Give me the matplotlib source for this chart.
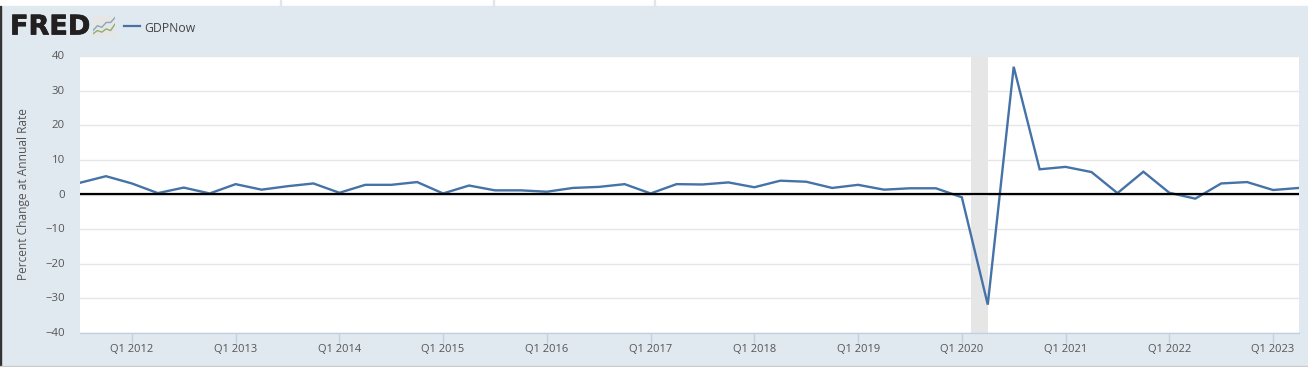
import matplotlib
matplotlib.use("Agg")
import matplotlib.pyplot as plt
import matplotlib.patheffects as pe
from matplotlib.patches import Rectangle
from matplotlib.transforms import Affine2D

# GDPNow, quarterly, Q3 2011 to Q2 2023
gdpnow = [3.4, 5.3, 3.2, 0.4, 2.0, 0.3, 3.0, 1.4, 2.4, 3.2,
          0.5, 2.8, 2.8, 3.6, 0.3, 2.6, 1.2, 1.2, 0.8, 1.9,
          2.2, 3.0, 0.3, 3.0, 2.9, 3.5, 2.1, 4.0, 3.7, 1.9,
          2.8, 1.4, 1.8, 1.8, -0.8, -31.9, 37.0, 7.3, 8.0, 6.5,
          0.4, 6.6, 0.5, -1.2, 3.2, 3.6, 1.3, 1.9]
quarters = list(range(len(gdpnow)))

year_ticks = [2, 6, 10, 14, 18, 22, 26, 30, 34, 38, 42, 46]
year_labels = ["Q1 2012", "Q1 2013", "Q1 2014", "Q1 2015", "Q1 2016", "Q1 2017",
               "Q1 2018", "Q1 2019", "Q1 2020", "Q1 2021", "Q1 2022", "Q1 2023"]
y_ticks = [-40, -30, -20, -10, 0, 10, 20, 30, 40]
recession = [34.35, 35.0]

# logo sparkline shapes
logo_x = [0, 1, 2, 3, 4, 5]
logo_blue = [3, 6, 5, 8, 8, 11]
logo_green = [1, 3, 2, 4, 3, 7]

W, H = 1308, 367
BG = "#e1e9f0"
TXT = "#555555"
plt.rcParams["font.family"] = ["Open Sans", "DejaVu Sans"]

fig = plt.figure(figsize=(W / 100, H / 100), dpi=100, facecolor="white")

# page background band, with the page edges around it
fig.add_artist(Rectangle((0, 0), 1, 1 - 6 / H, transform=fig.transFigure, color=BG, zorder=-5))
fig.add_artist(Rectangle((0, 0), 1.4 / W, 1 - 6 / H, transform=fig.transFigure, color="#333333", zorder=-4))
fig.add_artist(Rectangle((0, 0), 1, 1.5 / H, transform=fig.transFigure, color="#c8ccd0", zorder=-4))
for px in [280, 493, 654]:
    fig.add_artist(Rectangle((px / W, 1 - 6 / H), 1 / W, 6 / H, transform=fig.transFigure,
                             color="#dfe6ee", zorder=-4))

ax = fig.add_axes([80 / W, 1 - 332.6 / H, (1299 - 80) / W, (332.6 - 56.4) / H], facecolor="white")
ax.set_xlim(0, len(gdpnow) - 1)
ax.set_ylim(-40, 40)

# zero line and y labels sit one pixel above their gridlines in the original
one_px_up = Affine2D().translate(0, 1)

ax.axvspan(recession[0], recession[1], color="#e6e6e6", lw=0, zorder=1)
ax.grid(axis="y", color="#e6e6e6", lw=1, zorder=0)
ax.set_axisbelow(True)
ax.plot(quarters, gdpnow, color="#4572a7", lw=1.7, zorder=3, solid_joinstyle="miter")
zero_line = ax.axhline(0, color="black", lw=1.6, zorder=4)
zero_line.set_transform(zero_line.get_transform() + one_px_up)

for s in ["top", "left", "right"]:
    ax.spines[s].set_visible(False)
ax.spines["bottom"].set_color("#c0d0e0")
ax.spines["bottom"].set_linewidth(1)

ax.set_yticks(y_ticks)
ax.tick_params(axis="y", length=0, pad=10.8, labelsize=8.2, labelcolor=TXT)
for lbl in ax.get_yticklabels():
    lbl.set_transform(lbl.get_transform() + one_px_up)
ax.set_xticks(year_ticks)
ax.set_xticklabels(year_labels)
ax.tick_params(axis="x", length=7, width=1, color="#c0d0e0", pad=1, labelsize=8, labelcolor=TXT)
ax.set_ylabel("Percent Change at Annual Rate", fontsize=8.6, color=TXT, va="center")
ax.yaxis.set_label_coords((24 - 80) / (1299 - 80), 0.5)

# header: logo and legend
fig.text(10 / W, 1 - 27.5 / H, "FRED", fontsize=19.5, fontweight="bold", color="#231f20",
         va="center", ha="left", family="DejaVu Sans",
         path_effects=[pe.withStroke(linewidth=0.5, foreground="#231f20")])
logo = fig.add_axes([93 / W, 1 - 37 / H, 22 / W, 21 / H], facecolor="#e6e7e5")
logo.plot(logo_x, logo_blue, color="#8aa5c0", lw=1)
logo.plot(logo_x, logo_green, color="#8fae6e", lw=1)
logo.set_xticks([])
logo.set_yticks([])
logo.set_xlim(0, 5)
logo.set_ylim(-1, 12)
for s in logo.spines.values():
    s.set_visible(False)

fig.add_artist(plt.Line2D([124 / W, 140 / W], [1 - 26 / H, 1 - 26 / H], color="#4572a7", lw=1.6))
fig.text(144.5 / W, 1 - 28 / H, "GDPNow", fontsize=8.8, color="#444444", va="center", ha="left")

fig.savefig("out.png", dpi=100, facecolor=fig.get_facecolor())
